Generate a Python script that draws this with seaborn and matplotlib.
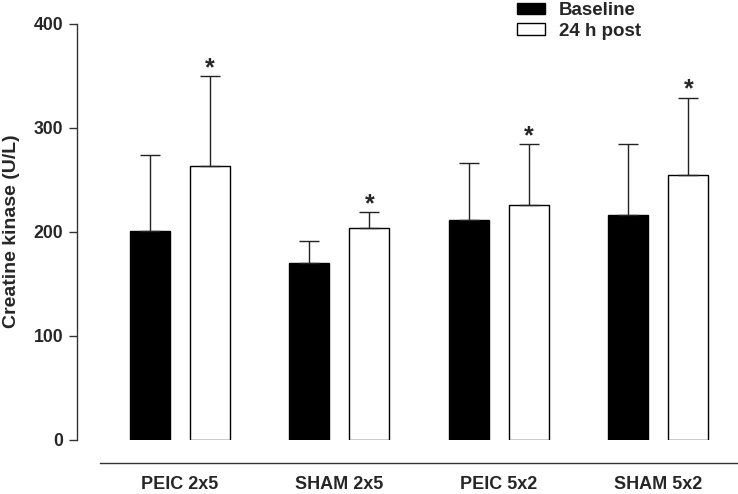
import pandas as pd
import numpy as np
import seaborn as sns
import matplotlib.pyplot as plt

# values (mean and upward SD)
groups = ['PEIC 2x5', 'SHAM 2x5', 'PEIC 5x2', 'SHAM 5x2']
conditions = ['Baseline', '24 h post']
baseline_mean = [201, 170, 211, 216]
baseline_sd = [73, 21, 55, 68]
post_mean = [263, 203, 226, 254]
post_sd = [87, 16, 58, 75]
significant = {'Baseline': [False, False, False, False],
               '24 h post': [True, True, True, True]}

df = pd.DataFrame({
    'group': groups * 2,
    'condition': ['Baseline'] * 4 + ['24 h post'] * 4,
    'ck': baseline_mean + post_mean,
})
sds = {'Baseline': baseline_sd, '24 h post': post_sd}

sns.set_style('ticks')
plt.rcParams['font.family'] = ['Liberation Sans', 'DejaVu Sans']
plt.rcParams['font.weight'] = 'bold'

fig = plt.figure(figsize=(7.38, 4.94), dpi=100)
ax = fig.add_axes([100 / 738, 54.5 / 494, 638 / 738, 415.8 / 494])

sns.barplot(data=df, x='group', y='ck', hue='condition', order=groups,
            hue_order=conditions, palette={'Baseline': 'black', '24 h post': 'white'},
            edgecolor='black', linewidth=1, saturation=1, width=0.755, gap=0.333,
            errorbar=None, ax=ax)

# one-sided error bars and asterisks
for cont, cond in zip(ax.containers, conditions):
    xs = [p.get_x() + p.get_width() / 2 for p in cont.patches]
    hs = [p.get_height() for p in cont.patches]
    ax.errorbar(xs, hs, yerr=[np.zeros(len(hs)), sds[cond]], fmt='none',
                ecolor='#222222', elinewidth=1, capsize=7, capthick=1, zorder=3)
    for x, h, s, sig in zip(xs, hs, sds[cond], significant[cond]):
        if sig:
            ax.annotate('*', (x, h + s), xytext=(0, -3), textcoords='offset points',
                        ha='center', va='bottom', fontsize=18, fontweight='bold')

ax.set_xlim(-0.5, 3.5)
ax.set_ylim(0, 400)
ax.set_yticks([0, 100, 200, 300, 400])
ax.set_xlabel('')
ax.set_ylabel('Creatine kinase (U/L)', fontsize=14, fontweight='bold', labelpad=10)
ax.tick_params(axis='y', labelsize=12.7, length=6, width=1, color='#333333', pad=4)
ax.tick_params(axis='x', labelsize=13, length=0, pad=9.5)
for lab in ax.get_xticklabels() + ax.get_yticklabels():
    lab.set_fontweight('bold')

sns.despine(ax=ax)
ax.spines['left'].set_position(('outward', 16.5))
ax.spines['left'].set_bounds(0, 400)
ax.spines['bottom'].set_position(('outward', 17))
for sp in ['left', 'bottom']:
    ax.spines[sp].set_color('#333333')
    ax.spines[sp].set_linewidth(1)

leg = ax.legend(loc='upper left', bbox_to_anchor=(515 / 738, 1.0), bbox_transform=fig.transFigure,
                frameon=False, fontsize=13.5, handlelength=1.5, handleheight=0.53,
                handletextpad=0.75, labelspacing=0.2, borderaxespad=0, borderpad=0.1)
for t in leg.get_texts():
    t.set_fontweight('bold')

plt.savefig('out.png', dpi=100)
